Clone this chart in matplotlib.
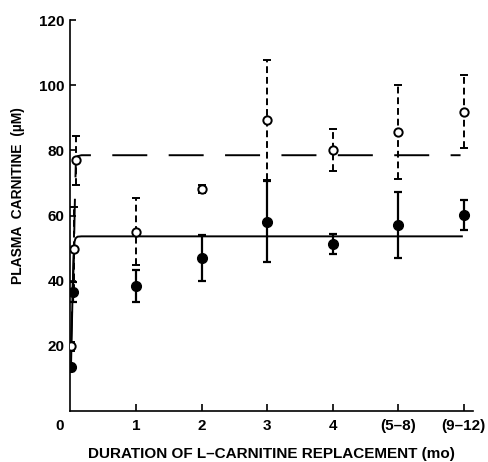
import numpy as np
import matplotlib.pyplot as plt

plt.rcParams['font.family'] = ['Liberation Sans', 'DejaVu Sans']
plt.rcParams['font.weight'] = 'bold'

# x axis: months 0-4, then grouped (5-8) and (9-12) at 5 and 6
tick_pos = [1, 2, 3, 4, 5, 6]
tick_labels = ['1', '2', '3', '4', '(5\u20138)', '(9\u201312)']
y_ticks = [20, 40, 60, 80, 100, 120]

# filled circles (solid fit)
filled_x = [0.0, 0.025, 1, 2, 3, 4, 5, 6]
filled_y = [13.4, 36.6, 38.4, 46.9, 58.1, 51.2, 57.1, 60.2]
filled_err = [1.0, 3.0, 5.0, 7.0, 12.5, 3.0, 10.0, 4.5]

# open circles (dashed fit)
open_x = [0.0, 0.045, 0.075, 1, 2, 3, 4, 5, 6]
open_y = [19.8, 49.7, 77.0, 55.0, 68.2, 89.3, 80.2, 85.7, 91.9]
open_err = [1.5, 13.0, 7.5, 10.3, 1.2, 18.5, 6.5, 14.5, 11.3]

# fitted curves
solid_fit_x = [0.0, 0.025, 0.045, 0.055, 0.07, 0.1, 0.16, 5.97]
solid_fit_y = [13.4, 36.6, 49.7, 52.0, 53.0, 53.5, 53.6, 53.6]
dashed_fit_x = [0.0, 0.025, 0.045, 0.06, 0.075, 0.1, 0.16, 5.95]
dashed_fit_y = [19.8, 36.0, 49.7, 65.0, 77.0, 78.2, 78.5, 78.5]

fig = plt.figure(figsize=(4.88, 4.62), dpi=100, facecolor='white')
ax = fig.add_axes([70 / 488, 51 / 462, 403 / 488, 391 / 462])

ax.plot(solid_fit_x, solid_fit_y, color='black', lw=1.4, zorder=2)
ax.plot(dashed_fit_x, dashed_fit_y, color='black', lw=1.4, dashes=(18, 11), zorder=2)

eb = ax.errorbar(filled_x, filled_y, yerr=filled_err, fmt='o', color='black',
                 ms=7, elinewidth=1.6, capsize=3, capthick=1.6, zorder=4)

eb2 = ax.errorbar(open_x, open_y, yerr=open_err, fmt='o', color='black',
                  mfc='white', mec='black', mew=1.4, ms=6,
                  elinewidth=1.4, capsize=3, capthick=1.6, zorder=5)
eb2[2][0].set_linestyle((0, (3.5, 2)))

ax.set_xlim(-0.015, 6.14)
ax.set_ylim(0, 120)

for s in ['top', 'right']:
    ax.spines[s].set_visible(False)
for s in ['left', 'bottom']:
    ax.spines[s].set_linewidth(1.2)

ax.set_xticks(tick_pos)
ax.set_xticklabels(tick_labels)
ax.set_yticks(y_ticks)
ax.tick_params(axis='x', direction='in', length=5, width=1.2, labelsize=11, pad=6)
ax.tick_params(axis='y', direction='in', length=4, width=1.2, labelsize=11, pad=4)

# origin label sits below-left of the corner
ax.annotate('0', xy=(0, 0), xytext=(-8, -6), textcoords='offset points',
            ha='center', va='top', fontsize=11, fontweight='bold', annotation_clip=False)

ax.set_xlabel('DURATION OF L\u2013CARNITINE REPLACEMENT (mo)', fontsize=11, fontweight='bold', labelpad=10)
ax.set_ylabel('PLASMA  CARNITINE  (\u00b5M)', fontsize=10, fontweight='bold')
ax.yaxis.set_label_coords(-0.112, 0.552)

fig.savefig('out.png', dpi=100, facecolor='white')
